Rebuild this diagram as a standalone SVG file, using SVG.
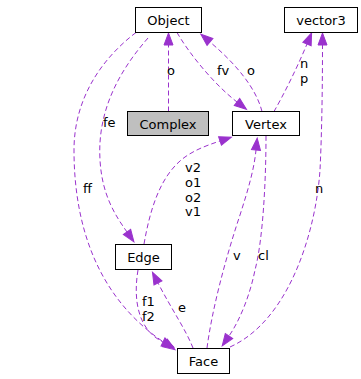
<svg xmlns="http://www.w3.org/2000/svg" width="361" height="379" viewBox="0 0 361 379">
  <style>
    .box { fill: #ffffff; stroke: #000000; stroke-width: 1; }
    .box.cur { fill: #bfbfbf; }
    .name { font-family: "DejaVu Sans", sans-serif; font-size: 13px; fill: #000000; text-anchor: middle; }
    .lbl { font-family: "DejaVu Sans", sans-serif; font-size: 13px; fill: #000000; }
    .use { fill: none; stroke: #9a32cd; stroke-width: 1; stroke-dasharray: 5,3; marker-end: url(#head); }
  </style>
  <defs>
    <marker id="head" markerUnits="userSpaceOnUse" markerWidth="14" markerHeight="11" refX="0" refY="4.5" orient="auto" overflow="visible">
      <path d="M0,0 L12,4.5 L0,9 z" fill="#9a32cd" stroke="#9a32cd" stroke-width="1"/>
    </marker>
  </defs>

  <g id="connectors">
    <!-- Complex -> Object : o -->
    <path class="use" d="M168.5,111.5 L168.5,45"/>
    <text class="lbl" x="167" y="75">o</text>
    <!-- Object -> Vertex : fv -->
    <path class="use" d="M177,32.5 C190,55 215,85 237,102"/>
    <text class="lbl" x="217" y="75">fv</text>
    <!-- Vertex -> Object : o -->
    <path class="use" d="M262,111.5 C256,88 236,64 210,42"/>
    <text class="lbl" x="247" y="75">o</text>
    <!-- Vertex -> vector3 : n, p -->
    <path class="use" d="M274,111.5 C284,94 297,68 307,44"/>
    <text class="lbl" x="300" y="68">n</text>
    <text class="lbl" x="300" y="83">p</text>
    <!-- Face -> vector3 : n -->
    <path class="use" d="M230,347 C290,320 316,230 320,170 C322,130 322.5,80 322.5,45"/>
    <text class="lbl" x="315" y="193">n</text>
    <!-- Object -> Edge : fe -->
    <path class="use" d="M148,38 C120,70 97,110 100,160 C102,195 115,215 127,232"/>
    <text class="lbl" x="103" y="127">fe</text>
    <!-- Object -> Face : ff -->
    <path class="use" d="M136,32.5 C100,60 74,100 74,150 C74,230 100,300 165,343"/>
    <text class="lbl" x="83" y="193">ff</text>
    <!-- Edge -> Vertex : v2, o1, o2, v1 -->
    <path class="use" d="M144,244 C150,210 160,175 185,157 C195,150 205,146 220,141"/>
    <text class="lbl" x="185" y="172">v2</text>
    <text class="lbl" x="185" y="187">o1</text>
    <text class="lbl" x="185" y="202">o2</text>
    <text class="lbl" x="185" y="216">v1</text>
    <!-- Face -> Vertex : v -->
    <path class="use" d="M207,348 C212,310 225,260 240,215 C248,190 254,170 256,150"/>
    <text class="lbl" x="233" y="260">v</text>
    <!-- Vertex -> Face : cl -->
    <path class="use" d="M266,136 C266,180 263,240 255,270 C250,295 240,320 229,336"/>
    <text class="lbl" x="258" y="260">cl</text>
    <!-- Face -> Edge : e -->
    <path class="use" d="M193,348 C186,330 172,310 158,283"/>
    <text class="lbl" x="178" y="312">e</text>
    <!-- Edge -> Face : f1, f2 -->
    <path class="use" d="M138,270 C133,300 138,330 163,342"/>
    <text class="lbl" x="142" y="306">f1</text>
    <text class="lbl" x="142" y="321">f2</text>
  </g>

  <g id="node-object">
    <rect class="box" x="135.5" y="7.5" width="66" height="25"/>
    <text class="name" x="168.5" y="25">Object</text>
  </g>
  <g id="node-vector3">
    <rect class="box" x="284.5" y="7.5" width="73" height="25"/>
    <text class="name" x="321" y="25">vector3</text>
  </g>
  <g id="node-complex">
    <rect class="box cur" x="127.5" y="111.5" width="81" height="24"/>
    <text class="name" x="168" y="128.5">Complex</text>
  </g>
  <g id="node-vertex">
    <rect class="box" x="232.5" y="111.5" width="67" height="24"/>
    <text class="name" x="266" y="128.5">Vertex</text>
  </g>
  <g id="node-edge">
    <rect class="box" x="115.5" y="244.5" width="56" height="25"/>
    <text class="name" x="143.5" y="262">Edge</text>
  </g>
  <g id="node-face">
    <rect class="box" x="177.5" y="348.5" width="52" height="25"/>
    <text class="name" x="203.5" y="366">Face</text>
  </g>
</svg>
